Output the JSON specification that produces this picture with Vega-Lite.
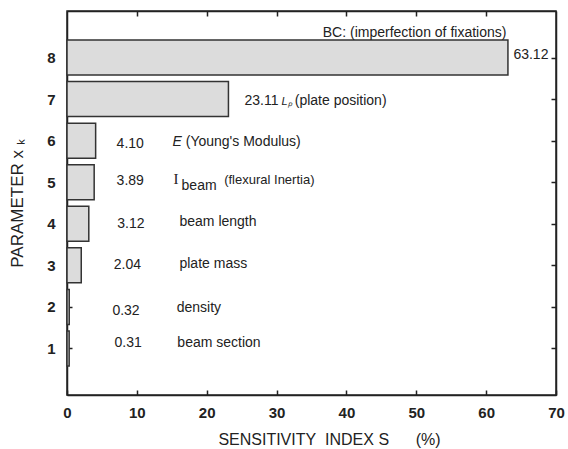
{
  "$schema": "https://vega.github.io/schema/vega-lite/v6.json",
  "width": 489,
  "height": 384,
  "autosize": {"type": "none"},
  "padding": {"left": 67, "top": 11, "right": 12, "bottom": 54},
  "background": "white",
  "config": {
    "font": "Liberation Sans",
    "view": {"stroke": "#222", "strokeWidth": 1.5},
    "axis": {"grid": false, "domainColor": "#222", "domainWidth": 1.5, "tickColor": "#222", "tickWidth": 1.5, "labelColor": "#222", "titleColor": "#222"}
  },
  "datasets": {
    "bars": [
      {"k": 1, "S": 0.31, "label": "0.31", "lx": 6.8, "ly": 1.12},
      {"k": 2, "S": 0.32, "label": "0.32", "lx": 6.5, "ly": 1.89},
      {"k": 3, "S": 2.04, "label": "2.04", "lx": 6.7, "ly": 3.01},
      {"k": 4, "S": 3.12, "label": "3.12", "lx": 7.2, "ly": 4.0},
      {"k": 5, "S": 3.89, "label": "3.89", "lx": 7.1, "ly": 5.03},
      {"k": 6, "S": 4.10, "label": "4.10", "lx": 7.1, "ly": 5.92},
      {"k": 7, "S": 23.11, "label": "23.11", "lx": 25.4, "ly": 6.96},
      {"k": 8, "S": 63.12, "label": "63.12", "lx": 63.9, "ly": 8.05}
    ],
    "notes": [
      {"text": "(Young's Modulus)", "x": 17.0, "y": 5.96},
      {"text": "beam length", "x": 16.1, "y": 4.04},
      {"text": "plate mass", "x": 16.1, "y": 3.03},
      {"text": "density", "x": 15.7, "y": 1.98},
      {"text": "beam section", "x": 15.8, "y": 1.12},
      {"text": "(plate position)", "x": 32.6, "y": 6.96}
    ],
    "notesRight": [
      {"text": "BC: (imperfection of fixations)", "x": 62.9, "y": 8.59}
    ],
    "notesSmall": [
      {"text": "(flexural Inertia)", "x": 22.5, "y": 5.05}
    ],
    "serif": [
      {"text": "I", "x": 15.25, "y": 5.07}
    ],
    "sub": [
      {"text": "beam", "x": 16.4, "y": 4.9}
    ],
    "italic": [
      {"text": "E", "x": 15.1, "y": 5.96}
    ],
    "italicSmall": [
      {"text": "Lₚ", "x": 30.7, "y": 6.92}
    ]
  },
  "layer": [
    {
      "data": {"name": "bars"},
      "mark": {"type": "bar", "orient": "horizontal", "height": 35, "fill": "#dcdcdc", "stroke": "#333", "strokeWidth": 1.5},
      "encoding": {
        "x": {"field": "S", "type": "quantitative", "scale": {"domain": [0, 70], "nice": false, "zero": true},
          "axis": {"orient": "bottom", "values": [0, 10, 20, 30, 40, 50, 60, 70], "tickSize": -5, "labelPadding": 15, "labelFontSize": 15, "labelFontWeight": "bold", "labelFlush": false,
            "title": "SENSITIVITY\u00a0 INDEX S\u00a0\u00a0\u00a0\u00a0\u00a0 (%)", "titleFontSize": 16, "titleFontWeight": "normal", "titleX": 262, "titleY": 44, "titleAlign": "center", "titleBaseline": "middle"}},
        "x2": {"datum": 0},
        "y": {"field": "k", "type": "quantitative", "scale": {"domain": [0, 9], "nice": false, "zero": true},
          "axis": {"orient": "left", "values": [1, 2, 3, 4, 5, 6, 7, 8], "tickSize": -5, "labelPadding": 17, "labelFontSize": 15, "labelFontWeight": "bold",
            "title": "PARAMETER x\u00a0ₖ", "titleFontSize": 17, "titleFontWeight": "normal", "titleX": -50, "titleY": 192, "titleAlign": "center", "titleBaseline": "middle"}}
      }
    },
    {
      "data": {"name": "bars"},
      "mark": {"type": "point", "opacity": 0},
      "encoding": {
        "x": {"field": "S", "type": "quantitative", "axis": {"orient": "top", "values": [10, 20, 30, 40, 50, 60], "tickSize": -5, "labels": false, "title": null}},
        "y": {"field": "k", "type": "quantitative", "axis": {"orient": "right", "values": [1, 2, 3, 4, 5, 6, 7, 8], "tickSize": -5, "labels": false, "title": null}}
      }
    },
    {
      "data": {"name": "bars"},
      "mark": {"type": "text", "align": "left", "baseline": "middle", "fontSize": 14, "color": "#222"},
      "encoding": {
        "x": {"field": "lx", "type": "quantitative", "axis": null},
        "y": {"field": "ly", "type": "quantitative", "axis": null},
        "text": {"field": "label"}
      }
    },
    {
      "data": {"name": "notes"},
      "mark": {"type": "text", "align": "left", "baseline": "middle", "fontSize": 14, "color": "#222"},
      "encoding": {
        "x": {"field": "x", "type": "quantitative", "axis": null},
        "y": {"field": "y", "type": "quantitative", "axis": null},
        "text": {"field": "text"}
      }
    },
    {
      "data": {"name": "notesRight"},
      "mark": {"type": "text", "align": "right", "baseline": "middle", "fontSize": 14, "color": "#222"},
      "encoding": {
        "x": {"field": "x", "type": "quantitative", "axis": null},
        "y": {"field": "y", "type": "quantitative", "axis": null},
        "text": {"field": "text"}
      }
    },
    {
      "data": {"name": "notesSmall"},
      "mark": {"type": "text", "align": "left", "baseline": "middle", "fontSize": 13, "color": "#222"},
      "encoding": {
        "x": {"field": "x", "type": "quantitative", "axis": null},
        "y": {"field": "y", "type": "quantitative", "axis": null},
        "text": {"field": "text"}
      }
    },
    {
      "data": {"name": "serif"},
      "mark": {"type": "text", "align": "left", "baseline": "middle", "fontSize": 15, "font": "Liberation Serif", "color": "#222"},
      "encoding": {
        "x": {"field": "x", "type": "quantitative", "axis": null},
        "y": {"field": "y", "type": "quantitative", "axis": null},
        "text": {"field": "text"}
      }
    },
    {
      "data": {"name": "sub"},
      "mark": {"type": "text", "align": "left", "baseline": "middle", "fontSize": 14, "color": "#222"},
      "encoding": {
        "x": {"field": "x", "type": "quantitative", "axis": null},
        "y": {"field": "y", "type": "quantitative", "axis": null},
        "text": {"field": "text"}
      }
    },
    {
      "data": {"name": "italic"},
      "mark": {"type": "text", "align": "left", "baseline": "middle", "fontSize": 14, "fontStyle": "italic", "color": "#222"},
      "encoding": {
        "x": {"field": "x", "type": "quantitative", "axis": null},
        "y": {"field": "y", "type": "quantitative", "axis": null},
        "text": {"field": "text"}
      }
    },
    {
      "data": {"name": "italicSmall"},
      "mark": {"type": "text", "align": "left", "baseline": "middle", "fontSize": 11, "fontStyle": "italic", "color": "#222"},
      "encoding": {
        "x": {"field": "x", "type": "quantitative", "axis": null},
        "y": {"field": "y", "type": "quantitative", "axis": null},
        "text": {"field": "text"}
      }
    }
  ],
  "resolve": {"axis": {"x": "independent", "y": "independent"}}
}
